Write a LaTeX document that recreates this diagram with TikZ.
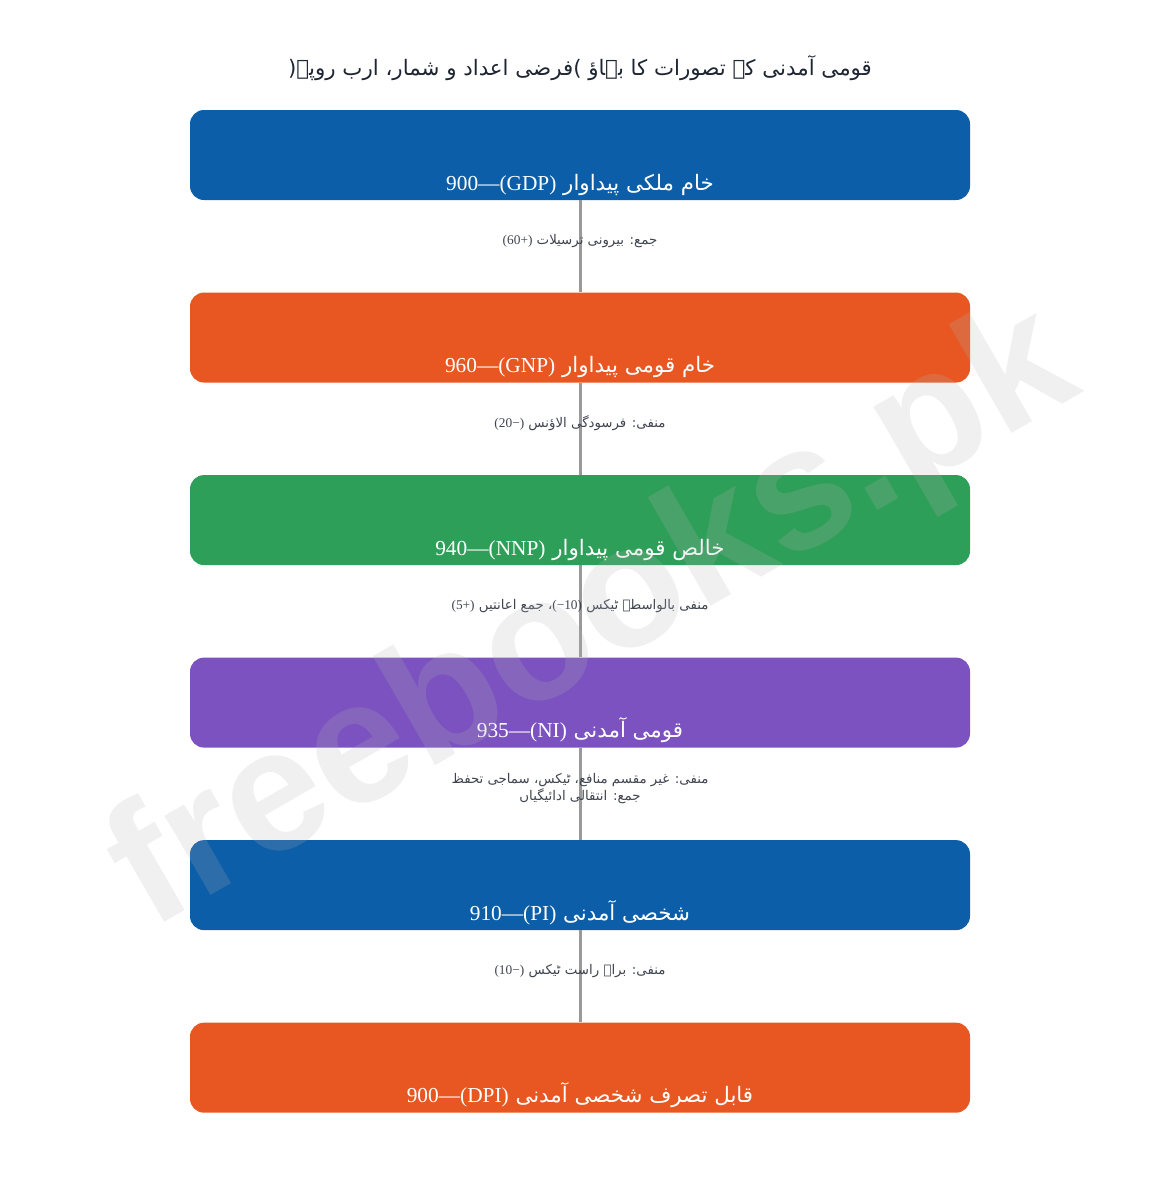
\documentclass[tikz,border=0pt]{standalone}
\usepackage{fontspec}
\usepackage{tikz}
\usetikzlibrary{positioning,calc}
\setmainfont{DejaVu Sans}
\newfontfamily\urdu[Script=Arabic]{DejaVu Sans}
\newfontfamily\latfont{Liberation Serif}
\newfontfamily\wmfont{Liberation Sans}
\TeXXeTstate=1
\newcommand\enrun[1]{\beginL{\latfont #1}\endL}
\definecolor{cblue}{HTML}{0C5EA8}
\definecolor{corange}{HTML}{E85722}
\definecolor{cgreen}{HTML}{2E9F58}
\definecolor{cpurple}{HTML}{7B52C0}
\definecolor{clink}{HTML}{999999}
\definecolor{cnote}{HTML}{3F4450}
\definecolor{ctitle}{HTML}{1F2633}
\tikzset{
  box/.style={rectangle, rounded corners=10.5pt, minimum width=585pt, inner sep=0pt,
    text height=60pt, text depth=7.5pt, text=white, font=\urdu\fontsize{16}{20}\selectfont},
  note/.style={text=cnote, align=center, yshift=4pt, font=\urdu\fontsize{10}{13}\selectfont},
  link/.style={draw=clink, line width=2.25pt},
}

\begin{document}
\begin{tikzpicture}[x=0.75pt, y=-0.75pt]
  % Frame in pixels of the 1160x1200 page
  \useasboundingbox (0,0) rectangle (1160,1200);
  \def\gap{69pt}

  % Title
  \node[text=ctitle, font=\urdu\fontsize{16}{20}\selectfont] (title) at (580,68)
    {\beginR قومی آمدنی کے تصورات کا بہاؤ \beginL)\endL فرضی اعداد و شمار، ارب روپے\beginL(\endL\endR};

  % Stages
  \node[box, fill=cblue] (gdp) at (580,155) {\beginR خام ملکی پیداوار \enrun{900—(GDP)}\endR};
  \node[box, fill=corange, below=\gap of gdp] (gnp) {\beginR خام قومی پیداوار \enrun{960—(GNP)}\endR};
  \node[box, fill=cgreen, below=\gap of gnp] (nnp) {\beginR خالص قومی پیداوار \enrun{940—(NNP)}\endR};
  \node[box, fill=cpurple, below=\gap of nnp] (ni) {\beginR قومی آمدنی \enrun{935—(NI)}\endR};
  \node[box, fill=cblue, below=\gap of ni] (pi) {\beginR شخصی آمدنی \enrun{910—(PI)}\endR};
  \node[box, fill=corange, below=\gap of pi] (dpi) {\beginR قابل تصرف شخصی آمدنی \enrun{900—(DPI)}\endR};

  % Links and adjustments
  \draw[link] (gdp) -- node[note] {\beginR جمع: بیرونی ترسیلات \enrun{(60+)}\endR} (gnp);
  \draw[link] (gnp) -- node[note] {\beginR منفی: فرسودگی الاؤنس \enrun{(20−)}\endR} (nnp);
  \draw[link] (nnp) -- node[note] {\beginR منفی بالواسطہ ٹیکس \enrun{(−10)}، جمع اعانتیں \enrun{(5+)}\endR} (ni);
  \draw[link] (ni) -- node[note] {\beginR منفی: غیر مقسم منافع، ٹیکس، سماجی تحفظ\endR\\\beginR جمع: انتقالی ادائیگیاں\endR} (pi);
  \draw[link] (pi) -- node[note] {\beginR منفی: براہ راست ٹیکس \enrun{(10−)}\endR} (dpi);

  % Watermark
  \node[rotate=30, text=gray!60, opacity=0.2, font=\wmfont\bfseries\fontsize{130}{130}\selectfont] (wm) at (595,622) {freebooks.pk};
\end{tikzpicture}
\end{document}
